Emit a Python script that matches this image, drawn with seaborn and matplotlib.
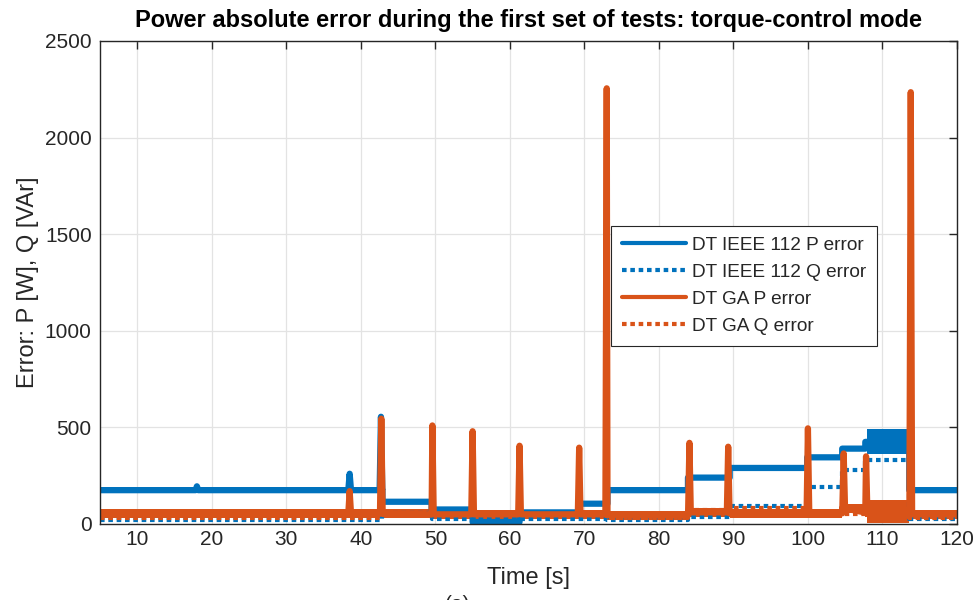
import numpy as np
import pandas as pd
import seaborn as sns
import matplotlib.pyplot as plt

# --- values (time in s, error in W / VAr) ---
# DT IEEE 112, P error: step levels between edges, plus spikes
ieee_p_edges = [5, 42.9, 49.5, 55.0, 61.3, 69.3, 73.1, 83.9, 89.5, 99.9, 104.6, 107.7, 113.6, 120]
ieee_p_levels = [175, 115, 75, 10, 60, 105, 175, 240, 290, 345, 390, 425, 175]
ieee_p_noise = 14                      # half width of the noisy band
ieee_p_spike_t = [18.0, 38.5, 42.7]
ieee_p_spike_h = [195, 260, 555]
ieee_p_band = [107.9, 113.5, 360, 490]   # t0, t1, low, high

# DT IEEE 112, Q error
ieee_q_edges = [5, 42.9, 49.5, 73.1, 83.9, 89.5, 99.9, 104.6, 107.7, 113.6, 120]
ieee_q_levels = [20, 55, 25, 20, 35, 95, 190, 280, 330, 25]

# DT GA, P error
ga_p_edges = [5, 49.5, 73.1, 83.9, 89.5, 104.6, 107.7, 113.6, 120]
ga_p_levels = [55, 50, 45, 60, 55, 80, 60, 50]
ga_p_noise = 22
ga_p_spike_t = [38.5, 42.75, 49.6, 55.0, 61.3, 69.3, 73.0, 84.1, 89.3, 100.0, 104.8, 107.8, 113.8]
ga_p_spike_h = [170, 545, 510, 480, 405, 395, 2255, 420, 400, 495, 365, 350, 2235]
ga_p_band = [107.9, 113.5, 5, 125]

# DT GA, Q error
ga_q_edges = [5, 42.9, 73.1, 83.9, 89.5, 99.9, 113.6, 120]
ga_q_levels = [30, 45, 30, 70, 85, 50, 30]

labels = ["DT IEEE 112 P error", "DT IEEE 112 Q error", "DT GA P error", "DT GA Q error"]
blue = "#0072BD"
orange = "#D95319"
ink = "#262626"


def build(edges, levels, spike_t=(), spike_h=(), w=0.18):
    xs, ys = [], []
    for i, lv in enumerate(levels):
        xs += [edges[i], edges[i + 1]]
        ys += [lv, lv]
    for t, h in zip(spike_t, spike_h):
        lv = levels[min(np.searchsorted(edges, t, side="right") - 1, len(levels) - 1)]
        xs += [t - w, t, t + w]
        ys += [lv, h, lv]
    order = np.argsort(xs, kind="stable")
    return pd.DataFrame({"t": np.array(xs)[order], "err": np.array(ys)[order]})


def noise_band(ax, edges, levels, half, color):
    lv = np.array(levels + [levels[-1]], dtype=float)
    ax.fill_between(edges, lv - half, lv + half, step="post", color=color, lw=0)


sns.set_style("whitegrid")
plt.rcParams["font.family"] = ["Liberation Sans", "DejaVu Sans"]

fig = plt.figure(figsize=(9.74, 6.0), dpi=100)
ax = fig.add_axes([0.1027, 0.1267, 0.8798, 0.805])

dot = (0, (1.1, 0.9))
sns.lineplot(data=build(ieee_p_edges, ieee_p_levels, ieee_p_spike_t, ieee_p_spike_h), x="t", y="err",
             estimator=None, sort=False, color=blue, lw=4.5, label=labels[0], ax=ax)
noise_band(ax, ieee_p_edges, ieee_p_levels, ieee_p_noise, blue)
ax.fill_between(ieee_p_band[:2], ieee_p_band[2], ieee_p_band[3], color=blue, lw=0)
sns.lineplot(data=build(ieee_q_edges, ieee_q_levels), x="t", y="err",
             estimator=None, sort=False, color=blue, lw=3, ls=dot, label=labels[1], ax=ax)
sns.lineplot(data=build(ga_p_edges, ga_p_levels, ga_p_spike_t, ga_p_spike_h), x="t", y="err",
             estimator=None, sort=False, color=orange, lw=4.5, label=labels[2], ax=ax)
noise_band(ax, ga_p_edges, ga_p_levels, ga_p_noise, orange)
ax.fill_between(ga_p_band[:2], ga_p_band[2], ga_p_band[3], color=orange, lw=0)
sns.lineplot(data=build(ga_q_edges, ga_q_levels), x="t", y="err",
             estimator=None, sort=False, color=orange, lw=3, ls=dot, label=labels[3], ax=ax)

ax.set_xlim(5, 120)
ax.set_ylim(0, 2500)
ax.set_xticks(np.arange(10, 121, 10))
ax.set_yticks(np.arange(0, 2501, 500))
ax.grid(True, color="#e3e3e3", lw=0.9)
for s in ax.spines.values():
    s.set_color(ink)
    s.set_linewidth(1.0)
ax.tick_params(direction="in", length=6, width=1, top=True, right=True,
               labelsize=15, colors=ink)
ax.tick_params(axis="x", pad=4)
ax.tick_params(axis="y", pad=6)

ax.set_xlabel("Time [s]", fontsize=17, color=ink)
ax.set_ylabel("Error: P [W], Q [VAr]", fontsize=17, color=ink)
ax.xaxis.set_label_coords(0.5, -0.089)
ax.yaxis.set_label_coords(-0.071, 0.5)
ax.set_title("Power absolute error during the first set of tests: torque-control mode",
             fontsize=17, fontweight="bold", color="black", pad=10)

leg = ax.legend(loc="lower left", bbox_to_anchor=(0.596, 0.3685), fontsize=13.7,
                handlelength=3.4, frameon=True, fancybox=False, framealpha=1,
                borderpad=0.58, labelspacing=0.51, handletextpad=0.3, borderaxespad=0)
leg.get_frame().set_edgecolor(ink)
leg.get_frame().set_linewidth(0.8)
for h in leg.get_lines():
    h.set_linewidth(3)

fig.text(0.47, -0.008, "(a)", fontsize=15, color=ink, ha="center", va="center")

fig.savefig("out.png", dpi=100)
